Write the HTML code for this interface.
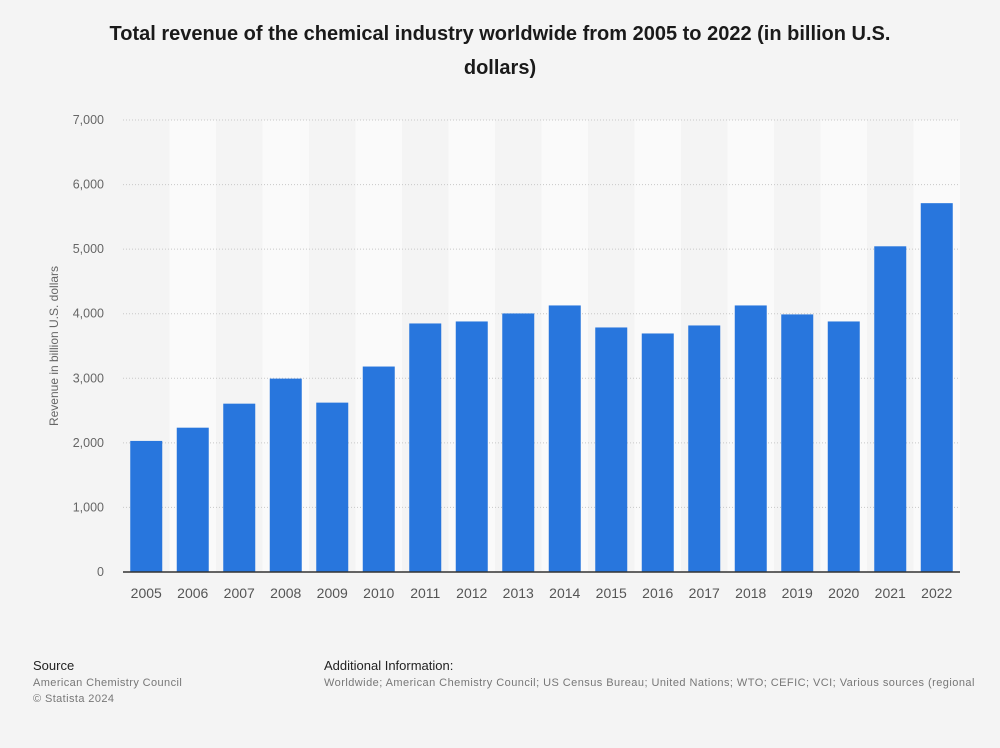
<!DOCTYPE html>
<html><head><meta charset="utf-8"><style>
body{margin:0;background:#f4f4f4;font-family:"Liberation Sans",sans-serif;}
#wrap{position:relative;width:1000px;height:743px;}
</style></head><body>
<div id="wrap">
<svg id="chart" width="1000" height="743"></svg>
</div>
<script>
const categories=["2005","2006","2007","2008","2009","2010","2011","2012","2013","2014","2015","2016","2017","2018","2019","2020","2021","2022"];
const revenue=[2030,2235,2607,2995,2623,3182,3849,3880,4004,4128,3787,3694,3818,4128,3989,3880,5044,5712];
const yTicks=[0,1000,2000,3000,4000,5000,6000,7000];
const yTickLabels=["0","1,000","2,000","3,000","4,000","5,000","6,000","7,000"];
const NS="http://www.w3.org/2000/svg";
const svg=document.getElementById('chart');
const x0=123,x1=960,yTop=120,yBot=572,yMax=7000;
const step=(x1-x0)/categories.length;
const yScale=v=>yBot-(v/yMax)*(yBot-yTop);
const xScale=i=>x0+i*step;
function mk(t,a,txt){const e=document.createElementNS(NS,t);for(const k in a)e.setAttribute(k,a[k]);if(txt!==undefined)e.textContent=txt;svg.appendChild(e);return e;}
let e;
e=mk('text',{x:500,y:40,'text-anchor':'middle','font-size':'20','font-weight':'bold',fill:'#1a1a1a'},'Total revenue of the chemical industry worldwide from 2005 to 2022 (in billion U.S.');


e=mk('text',{x:500,y:74,'text-anchor':'middle','font-size':'20','font-weight':'bold',fill:'#1a1a1a'},'dollars)');


categories.forEach((c,i)=>{if(i%2===1){e=mk('rect',{x:xScale(i),y:yTop,width:step,height:yBot-yTop,fill:'#fafafa'});

}});
yTicks.forEach((t,i)=>{const y=yScale(t);
if(t>0){e=mk('line',{x1:x0,x2:x1,y1:y,y2:y,stroke:'#c8c8c8','stroke-dasharray':'1,2'});

}
e=mk('text',{x:104,y:y+4,'text-anchor':'end','font-size':'12.5',fill:'#666'},yTickLabels[i]);

});
const bw=32;
categories.forEach((c,i)=>{const cx=xScale(i)+step/2;const y=yScale(revenue[i]);
e=mk('rect',{x:cx-bw/2,y:y,width:bw,height:yBot-y,fill:'#2876dd'});


e=mk('text',{x:cx,y:598,'text-anchor':'middle','font-size':'14',fill:'#555'},c);

});
e=mk('line',{x1:x0,x2:x1,y1:yBot,y2:yBot,stroke:'#333','stroke-width':1.5});


e=mk('text',{x:58,y:346,'text-anchor':'middle','font-size':'12',fill:'#666',transform:'rotate(-90 58 346)'},'Revenue in billion U.S. dollars');


const foot=[[33,670,'Source','#222',13,'source-heading',0],[33,686,'American Chemistry Council','#777',11,'source-text',0.4],[33,702,'© Statista 2024','#777',11,'copyright',0.4],[324,670,'Additional Information:','#222',13,'additional-info-heading',0],[324,686,'Worldwide; American Chemistry Council; US Census Bureau; United Nations; WTO; CEFIC; VCI; Various sources (regional','#777',11,'additional-info-text',0.45]];
foot.forEach(f=>{e=mk('text',{x:f[0],y:f[1],'font-size':f[4],fill:f[3],'letter-spacing':f[6]},f[2]);

});
</script>
</body></html>
